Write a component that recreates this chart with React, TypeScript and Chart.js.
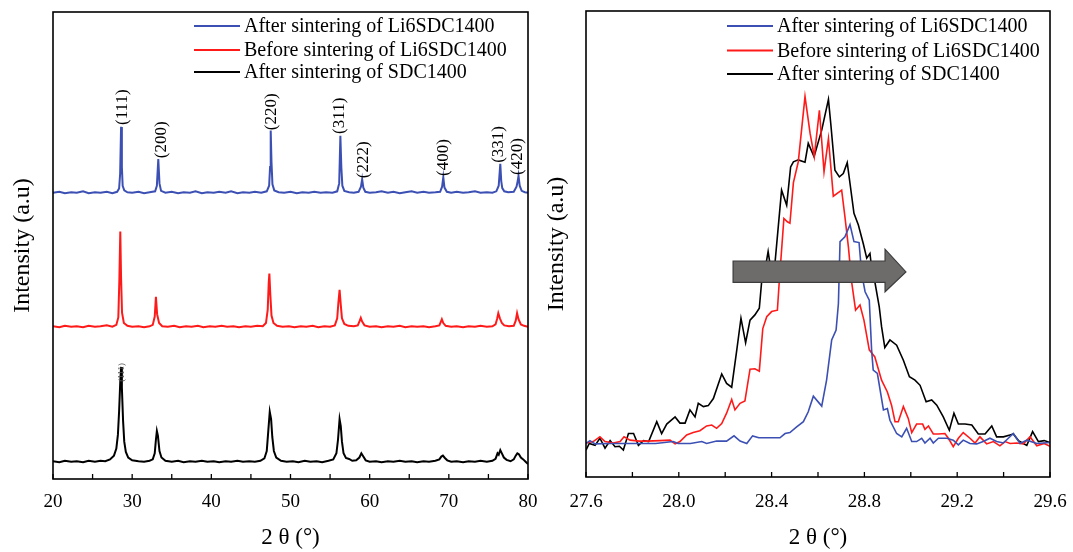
import React, { useEffect, useRef } from 'react';
import { Chart, registerables } from 'chart.js';

Chart.register(...registerables);

// ---------------- data ----------------
const seriesLabels = [
  'After sintering of Li6SDC1400',
  'Before sintering of Li6SDC1400',
  'After sintering of SDC1400',
];
const seriesColors = ['#3c50b4', '#ff1a1a', '#000000'];

// Left panel: full XRD patterns (2θ, offset intensity)
const leftBlue: [number, number][] = [
  [20.0, 61.3], [20.8, 61.5], [21.5, 61.2], [22.3, 61.4], [23.0, 61.3], [23.8, 61.6], [24.5, 61.2], [25.3, 61.4],
  [26.0, 61.3], [26.8, 61.5], [27.5, 61.2], [28.1, 61.5], [28.35, 62.2], [28.48, 65.3], [28.6, 75.4], [28.7, 66.8],
  [28.8, 62.8], [29.0, 61.8], [29.4, 61.4], [30.0, 61.3], [30.8, 61.5], [31.5, 61.2], [32.2, 61.4], [32.9, 61.6],
  [33.12, 62.8], [33.3, 68.5], [33.45, 63.3], [33.65, 61.7], [34.2, 61.3], [35.0, 61.5], [35.8, 61.2], [36.5, 61.4],
  [37.3, 61.3], [38.0, 61.6], [38.8, 61.2], [39.5, 61.4], [40.3, 61.3], [41.0, 61.5], [41.8, 61.3], [42.5, 61.6],
  [43.3, 61.2], [44.0, 61.4], [44.8, 61.3], [45.5, 61.5], [46.3, 61.3], [47.0, 61.6], [47.3, 62.8], [47.42, 66.8],
  [47.5, 74.6], [47.6, 67.8], [47.72, 63.1], [47.95, 61.8], [48.5, 61.4], [49.2, 61.3], [50.0, 61.5], [50.8, 61.2],
  [51.5, 61.4], [52.3, 61.3], [53.0, 61.5], [53.8, 61.3], [54.5, 61.4], [55.3, 61.3], [55.9, 61.6], [56.15, 63.3],
  [56.3, 73.5], [56.42, 66.8], [56.55, 62.8], [56.8, 61.7], [57.4, 61.4], [58.0, 61.3], [58.6, 61.5], [58.9, 62.6],
  [59.05, 64.2], [59.2, 62.4], [59.45, 61.5], [60.0, 61.3], [60.8, 61.4], [61.5, 61.6], [62.3, 61.3], [63.0, 61.5],
  [63.8, 61.2], [64.5, 61.4], [65.3, 61.6], [66.0, 61.3], [66.8, 61.5], [67.5, 61.3], [68.3, 61.4], [68.9, 61.5],
  [69.15, 62.6], [69.3, 64.6], [69.45, 62.4], [69.75, 61.5], [70.3, 61.3], [71.0, 61.5], [71.8, 61.3], [72.5, 61.4],
  [73.3, 61.6], [74.0, 61.3], [74.8, 61.4], [75.5, 61.3], [76.0, 61.6], [76.3, 62.8], [76.5, 67.5], [76.62, 63.8],
  [76.75, 62.3], [77.0, 61.6], [77.5, 61.4], [78.2, 61.5], [78.55, 62.6], [78.7, 63.8], [78.8, 64.9], [78.95, 62.8],
  [79.2, 61.7], [79.6, 61.4], [80.0, 61.3],
];

const leftRed: [number, number][] = [
  [20.0, 32.7], [20.8, 32.5], [21.5, 32.8], [22.3, 32.6], [23.0, 32.7], [23.8, 32.5], [24.5, 32.8], [25.3, 32.6],
  [26.0, 32.7], [26.8, 32.9], [27.5, 32.6], [28.0, 33.0], [28.25, 34.6], [28.38, 42.5], [28.5, 53.0], [28.6, 43.0],
  [28.72, 35.6], [28.95, 33.4], [29.4, 32.8], [30.0, 32.6], [30.8, 32.7], [31.5, 32.5], [32.2, 32.7], [32.6, 33.0],
  [32.85, 34.8], [33.0, 39.0], [33.15, 35.3], [33.4, 33.4], [33.8, 32.7], [34.5, 32.6], [35.3, 32.8], [36.0, 32.5],
  [36.8, 32.7], [37.5, 32.6], [38.3, 32.8], [39.0, 32.5], [39.8, 32.7], [40.5, 32.6], [41.3, 32.8], [42.0, 32.6],
  [42.8, 32.7], [43.5, 32.5], [44.3, 32.7], [45.0, 32.6], [45.8, 32.8], [46.5, 32.7], [46.9, 33.4], [47.12, 36.2],
  [47.25, 42.0], [47.33, 44.0], [47.45, 39.5], [47.6, 35.0], [47.85, 33.4], [48.3, 32.8], [49.0, 32.6], [49.8, 32.7],
  [50.5, 32.5], [51.3, 32.7], [52.0, 32.6], [52.8, 32.8], [53.5, 32.5], [54.3, 32.7], [55.0, 32.6], [55.6, 32.9],
  [55.9, 34.4], [56.05, 37.8], [56.2, 40.5], [56.35, 37.3], [56.5, 34.4], [56.8, 33.2], [57.3, 32.8], [58.0, 32.7],
  [58.5, 32.9], [58.75, 33.9], [58.88, 34.5], [59.05, 33.7], [59.35, 32.9], [60.0, 32.6], [60.8, 32.7], [61.5, 32.5],
  [62.3, 32.7], [63.0, 32.6], [63.8, 32.8], [64.5, 32.5], [65.3, 32.7], [66.0, 32.6], [66.8, 32.7], [67.5, 32.5],
  [68.3, 32.7], [68.8, 32.9], [69.0, 33.7], [69.12, 34.2], [69.3, 33.4], [69.6, 32.8], [70.3, 32.6], [71.0, 32.7],
  [71.8, 32.5], [72.5, 32.7], [73.3, 32.6], [74.0, 32.8], [74.8, 32.6], [75.5, 32.7], [75.9, 33.1], [76.1, 34.3],
  [76.25, 35.5], [76.45, 34.4], [76.7, 33.4], [77.0, 32.9], [77.6, 32.7], [78.2, 32.8], [78.45, 33.9], [78.62, 35.5],
  [78.8, 34.2], [79.1, 33.1], [79.5, 32.8], [80.0, 32.6],
];

const leftBlack: [number, number][] = [
  [20.0, 3.8], [20.8, 3.6], [21.5, 3.9], [22.3, 3.7], [23.0, 3.8], [23.8, 3.6], [24.5, 3.9], [25.3, 3.7],
  [26.0, 3.9], [26.6, 3.8], [27.2, 4.2], [27.7, 5.0], [28.0, 6.5], [28.2, 9.5], [28.35, 14.5], [28.5, 21.0],
  [28.6, 24.0], [28.7, 19.6], [28.85, 12.5], [29.0, 8.0], [29.2, 5.8], [29.5, 4.6], [30.0, 4.0], [30.8, 3.8],
  [31.5, 3.7], [32.2, 3.9], [32.6, 4.2], [32.85, 5.5], [33.0, 8.4], [33.12, 10.3], [33.25, 9.3], [33.45, 6.0],
  [33.7, 4.6], [34.2, 3.9], [35.0, 3.7], [35.8, 3.9], [36.5, 3.6], [37.3, 3.8], [38.0, 3.7], [38.8, 3.9],
  [39.5, 3.7], [40.3, 3.8], [41.0, 3.6], [41.8, 3.8], [42.5, 3.7], [43.3, 3.9], [44.0, 3.7], [44.8, 3.8],
  [45.5, 3.7], [46.2, 3.9], [46.7, 4.4], [47.0, 6.0], [47.2, 10.4], [47.38, 14.4], [47.55, 12.8], [47.7, 9.0],
  [47.9, 6.0], [48.2, 4.6], [48.8, 3.9], [49.5, 3.7], [50.3, 3.8], [51.0, 3.6], [51.8, 3.9], [52.5, 3.7],
  [53.3, 3.8], [54.0, 3.6], [54.8, 3.9], [55.4, 4.2], [55.8, 5.5], [56.0, 8.4], [56.2, 12.8], [56.35, 11.3],
  [56.5, 8.0], [56.7, 5.5], [57.0, 4.5], [57.4, 4.3], [57.8, 3.9], [58.3, 4.0], [58.7, 4.6], [58.95, 5.5],
  [59.2, 4.8], [59.5, 4.0], [60.0, 3.7], [60.8, 3.8], [61.5, 3.6], [62.3, 3.8], [63.0, 3.7], [63.8, 3.9],
  [64.5, 3.7], [65.3, 3.8], [66.0, 3.6], [66.8, 3.8], [67.5, 3.7], [68.3, 3.9], [68.8, 4.2], [69.05, 4.8],
  [69.25, 5.0], [69.5, 4.5], [69.8, 4.0], [70.3, 3.7], [71.0, 3.8], [71.8, 3.6], [72.5, 3.8], [73.3, 3.7],
  [74.0, 3.9], [74.8, 3.7], [75.5, 3.9], [75.9, 4.3], [76.15, 5.5], [76.3, 5.2], [76.5, 6.2], [76.7, 5.5],
  [76.95, 4.6], [77.3, 4.1], [77.8, 3.8], [78.2, 4.2], [78.45, 5.0], [78.65, 5.5], [78.85, 5.3], [79.1, 4.6],
  [79.4, 4.2], [79.7, 3.7], [80.0, 3.2],
];

// Miller-index labels above the blue pattern
const peakLabels = ['(111)', '(200)', '(220)', '(311)', '(222)', '(400)', '(331)', '(420)'];
const peakLabelX = [28.84, 33.66, 47.66, 56.14, 59.18, 69.39, 76.22, 78.74];
const peakLabelY = [75.8, 68.7, 74.7, 73.9, 64.4, 64.9, 67.7, 65.1];
const smallLabel = '(111)';
const smallLabelX = 28.66;
const smallLabelY = 20.8;

// Right panel: (111) peak zoom
const rightBlue: [number, number][] = [
  [27.6, 8.6], [27.617, 9.2], [27.639, 8.5], [27.7, 8.6], [27.8, 8.6], [27.9, 8.6], [27.976, 9.0], [27.997, 8.6],
  [28.05, 8.6], [28.099, 9.0], [28.12, 8.6], [28.163, 9.1], [28.206, 9.1], [28.238, 10.2], [28.264, 9.1], [28.293, 8.6],
  [28.318, 10.2], [28.345, 9.8], [28.4, 9.8], [28.436, 9.8], [28.458, 10.7], [28.479, 10.9], [28.508, 12.1], [28.537, 13.2],
  [28.558, 15.3], [28.58, 18.6], [28.616, 16.5], [28.637, 22.0], [28.659, 30.5], [28.678, 32.6], [28.688, 38.2], [28.695, 51.3],
  [28.716, 52.3], [28.738, 54.9], [28.755, 51.3], [28.777, 51.1], [28.784, 47.0], [28.795, 42.8], [28.803, 40.7], [28.821, 38.9],
  [28.831, 28.4], [28.838, 24.1], [28.856, 23.4], [28.882, 15.7], [28.899, 16.0], [28.91, 13.5], [28.939, 10.7], [28.961, 10.0],
  [28.982, 11.8], [29.004, 9.0], [29.025, 9.0], [29.047, 9.7], [29.061, 8.7], [29.083, 9.7], [29.097, 8.7], [29.119, 9.7],
  [29.155, 9.7], [29.183, 9.3], [29.205, 8.3], [29.226, 9.3], [29.255, 8.6], [29.284, 8.5], [29.312, 9.0], [29.341, 9.7],
  [29.37, 9.0], [29.399, 8.7], [29.442, 10.7], [29.471, 8.6], [29.5, 9.3], [29.543, 8.6], [29.6, 8.8],
];

const rightRed: [number, number][] = [
  [27.6, 8.7], [27.631, 9.0], [27.66, 10.0], [27.682, 9.0], [27.718, 8.7], [27.747, 9.0], [27.764, 10.0], [27.79, 9.3],
  [27.83, 9.1], [27.862, 9.1], [27.919, 9.2], [27.962, 9.3], [27.984, 8.5], [28.005, 9.0], [28.034, 10.4], [28.062, 10.9],
  [28.091, 11.3], [28.12, 12.3], [28.142, 12.5], [28.163, 11.8], [28.185, 12.8], [28.206, 15.0], [28.228, 17.9], [28.242, 15.7],
  [28.264, 17.1], [28.285, 17.6], [28.307, 24.3], [28.328, 24.4], [28.347, 23.9], [28.362, 32.9], [28.379, 35.4], [28.4, 36.5],
  [28.425, 36.8], [28.433, 42.8], [28.453, 56.2], [28.468, 55.5], [28.479, 55.2], [28.494, 63.8], [28.515, 68.2], [28.544, 82.0],
  [28.566, 74.2], [28.584, 69.3], [28.606, 79.1], [28.626, 66.1], [28.645, 73.1], [28.666, 60.9], [28.702, 62.2], [28.716, 56.6],
  [28.731, 50.2], [28.745, 42.8], [28.762, 36.8], [28.781, 37.9], [28.798, 34.7], [28.821, 28.4], [28.845, 26.9], [28.874, 22.0],
  [28.899, 19.5], [28.917, 16.7], [28.932, 13.2], [28.946, 13.2], [28.968, 16.4], [28.989, 13.9], [29.004, 10.9], [29.025, 12.7],
  [29.051, 12.7], [29.061, 11.6], [29.076, 12.3], [29.097, 10.6], [29.119, 10.6], [29.147, 10.7], [29.162, 9.7], [29.183, 7.9],
  [29.205, 9.7], [29.226, 10.9], [29.255, 9.7], [29.277, 8.7], [29.298, 10.0], [29.327, 8.5], [29.356, 9.0], [29.384, 8.1],
  [29.406, 9.0], [29.428, 8.6], [29.457, 8.7], [29.485, 8.5], [29.514, 10.0], [29.543, 8.1], [29.575, 8.6], [29.6, 8.0],
];

const rightBlack: [number, number][] = [
  [27.6, 7.2], [27.614, 8.6], [27.639, 8.2], [27.66, 9.7], [27.682, 7.6], [27.704, 9.2], [27.725, 7.9], [27.744, 8.0],
  [27.761, 7.2], [27.783, 10.7], [27.805, 10.7], [27.826, 8.2], [27.848, 9.2], [27.87, 9.0], [27.905, 13.2], [27.926, 10.7],
  [27.948, 12.7], [27.984, 14.2], [28.005, 12.9], [28.027, 12.9], [28.048, 15.7], [28.07, 14.2], [28.084, 17.1], [28.106, 16.4],
  [28.127, 16.6], [28.149, 18.1], [28.185, 23.3], [28.206, 21.3], [28.228, 20.5], [28.25, 28.4], [28.268, 35.1], [28.288, 29.9],
  [28.307, 34.7], [28.328, 35.8], [28.347, 37.2], [28.357, 42.8], [28.372, 45.5], [28.385, 49.2], [28.398, 45.0], [28.415, 47.0],
  [28.443, 62.2], [28.465, 59.0], [28.482, 67.1], [28.494, 68.2], [28.515, 68.6], [28.544, 68.1], [28.558, 72.1], [28.583, 69.3],
  [28.616, 74.9], [28.645, 81.4], [28.655, 76.3], [28.673, 66.4], [28.692, 65.0], [28.709, 65.7], [28.726, 68.0], [28.738, 63.6],
  [28.755, 57.3], [28.774, 54.8], [28.795, 50.9], [28.81, 47.8], [28.824, 48.8], [28.835, 44.0], [28.845, 42.8], [28.864, 37.5],
  [28.874, 33.3], [28.888, 28.9], [28.91, 30.5], [28.939, 29.4], [28.968, 26.2], [28.994, 22.7], [29.018, 22.0], [29.04, 20.9],
  [29.066, 17.4], [29.09, 17.8], [29.112, 16.7], [29.14, 14.2], [29.166, 11.4], [29.186, 15.0], [29.205, 12.7], [29.234, 12.7],
  [29.263, 12.5], [29.291, 10.6], [29.32, 10.6], [29.349, 12.3], [29.37, 10.0], [29.399, 10.0], [29.428, 10.4], [29.442, 10.6],
  [29.464, 9.2], [29.485, 8.6], [29.5, 8.2], [29.525, 11.1], [29.55, 9.0], [29.575, 9.2], [29.6, 8.8],
];

// Shift arrow (data coordinates: tail, head base, tip / head bottom, shaft bottom, centre, shaft top, head top)
const arrowX = [28.234, 28.889, 28.979];
const arrowY = [40.7, 42.7, 44.9, 47.2, 49.7];

// ---------------- helpers ----------------
const SERIF = '"Liberation Serif", "Times New Roman", Times, serif';

type Pt = [number, number];

function decorPlugin(drawExtra: (chart: any) => void, legendRows: number[]) {
  return {
    id: 'decor',
    afterDatasetsDraw(chart: any) {
      const { ctx, chartArea: a, scales } = chart;
      const xs = scales.x;
      ctx.save();
      // inward tick marks on the bottom axis
      ctx.strokeStyle = '#000';
      ctx.lineWidth = 1.3;
      xs.ticks.forEach((t: any) => {
        const px = xs.getPixelForValue(t.value);
        ctx.beginPath();
        ctx.moveTo(px, a.bottom);
        ctx.lineTo(px, a.bottom - 5);
        ctx.stroke();
      });
      drawExtra(chart);
      // frame
      ctx.strokeStyle = '#000';
      ctx.lineWidth = 1.6;
      ctx.strokeRect(a.left, a.top, a.right - a.left, a.bottom - a.top);
      // legend
      ctx.font = `20px ${SERIF}`;
      ctx.textAlign = 'left';
      ctx.textBaseline = 'middle';
      chart.data.datasets.forEach((ds: any, i: number) => {
        const y = a.top + legendRows[i];
        const x0 = a.left + 141;
        ctx.strokeStyle = ds.borderColor;
        ctx.lineWidth = 1.8;
        ctx.beginPath();
        ctx.moveTo(x0, y);
        ctx.lineTo(x0 + 46, y);
        ctx.stroke();
        ctx.fillStyle = '#000';
        ctx.fillText(ds.label, x0 + 50, y + 1);
      });
      ctx.restore();
    },
  };
}

function makeConfig(p: {
  series: Pt[][];
  xMin: number;
  xMax: number;
  yMin: number;
  yMax: number;
  step: number;
  fmt: (v: number) => string;
  lineWidth: number;
  padLeft: number;
  padRight: number;
  padTop: number;
  yWidth: number;
  xHeight: number;
  labelLineHeight: number;
  legendRows: number[];
  extra: (chart: any) => void;
}): any {
  return {
    type: 'line',
    data: {
      datasets: p.series.map((s, i) => ({
        label: seriesLabels[i],
        data: s.map(([x, y]) => ({ x, y })),
        borderColor: seriesColors[i],
        borderWidth: p.lineWidth,
        pointRadius: 0,
        tension: 0,
        fill: false,
      })),
    },
    options: {
      responsive: false,
      animation: false,
      devicePixelRatio: 1,
      layout: { padding: { left: p.padLeft, right: p.padRight, top: p.padTop, bottom: 0 } },
      plugins: { legend: { display: false }, tooltip: { enabled: false } },
      scales: {
        x: {
          type: 'linear',
          min: p.xMin,
          max: p.xMax,
          grid: { display: false, drawTicks: false },
          border: { display: false },
          ticks: {
            stepSize: p.step,
            autoSkip: false,
            maxRotation: 0,
            padding: 0,
            color: '#000',
            font: { family: SERIF, size: 19, lineHeight: `${p.labelLineHeight}px` },
            callback: (v: any, i: number) => (i % 2 === 0 ? p.fmt(Number(v)) : ''),
          },
          title: {
            display: true,
            text: '2 θ (°)',
            color: '#000',
            font: { family: SERIF, size: 23 },
            padding: { top: 0, bottom: 0 },
          },
          afterFit: (s: any) => {
            s.height = p.xHeight;
          },
        },
        y: {
          min: p.yMin,
          max: p.yMax,
          grid: { display: false, drawTicks: false },
          border: { display: false },
          ticks: { display: false },
          title: {
            display: true,
            text: 'Intensity (a.u)',
            color: '#000',
            font: { family: SERIF, size: 24 },
            padding: { top: 4, bottom: 4 },
          },
          afterFit: (s: any) => {
            s.width = p.yWidth;
          },
        },
      },
    },
    plugins: [decorPlugin(p.extra, p.legendRows)],
  };
}

function drawPeakLabels(chart: any) {
  const { ctx, scales } = chart;
  ctx.fillStyle = '#000';
  ctx.textAlign = 'left';
  ctx.textBaseline = 'middle';
  ctx.font = `17px ${SERIF}`;
  peakLabels.forEach((t, i) => {
    ctx.save();
    ctx.translate(scales.x.getPixelForValue(peakLabelX[i]), scales.y.getPixelForValue(peakLabelY[i]));
    ctx.rotate(-Math.PI / 2);
    ctx.fillText(t, 0, 0);
    ctx.restore();
  });
  ctx.save();
  ctx.fillStyle = '#555';
  ctx.font = `9px ${SERIF}`;
  ctx.translate(scales.x.getPixelForValue(smallLabelX), scales.y.getPixelForValue(smallLabelY));
  ctx.rotate(-Math.PI / 2);
  ctx.fillText(smallLabel, 0, 0);
  ctx.restore();
}

function drawArrow(chart: any) {
  const { ctx, scales } = chart;
  const [xa, xb, xc] = arrowX.map((v) => scales.x.getPixelForValue(v));
  const [yHb, ySb, yC, ySt, yHt] = arrowY.map((v) => scales.y.getPixelForValue(v));
  ctx.beginPath();
  ctx.moveTo(xa, ySt);
  ctx.lineTo(xb, ySt);
  ctx.lineTo(xb, yHt);
  ctx.lineTo(xc, yC);
  ctx.lineTo(xb, yHb);
  ctx.lineTo(xb, ySb);
  ctx.lineTo(xa, ySb);
  ctx.closePath();
  ctx.fillStyle = '#6e6b6b';
  ctx.fill();
  ctx.strokeStyle = '#3c3c3c';
  ctx.lineWidth = 1.2;
  ctx.stroke();
}

export default function App() {
  const leftRef = useRef<HTMLCanvasElement>(null);
  const rightRef = useRef<HTMLCanvasElement>(null);

  useEffect(() => {
    const left = new Chart(
      leftRef.current as HTMLCanvasElement,
      makeConfig({
        series: [leftBlue, leftRed, leftBlack],
        xMin: 20,
        xMax: 80,
        yMin: 0,
        yMax: 100,
        step: 5,
        fmt: (v) => String(Math.round(v)),
        lineWidth: 2,
        padLeft: 4,
        padRight: 17,
        padTop: 12,
        yWidth: 49,
        xHeight: 73,
        labelLineHeight: 46,
        legendRows: [14, 38, 60],
        extra: drawPeakLabels,
      })
    );
    const right = new Chart(
      rightRef.current as HTMLCanvasElement,
      makeConfig({
        series: [rightBlue, rightRed, rightBlack],
        xMin: 27.6,
        xMax: 29.6,
        yMin: 1.5,
        yMax: 100.1,
        step: 0.2,
        fmt: (v) => v.toFixed(1),
        lineWidth: 1.6,
        padLeft: 1,
        padRight: 23,
        padTop: 11,
        yWidth: 48,
        xHeight: 75,
        labelLineHeight: 50,
        legendRows: [15, 39.5, 63],
        extra: drawArrow,
      })
    );
    return () => {
      left.destroy();
      right.destroy();
    };
  }, []);

  return (
    <div style={{ position: 'fixed', left: 0, top: 0, width: 1073, height: 552, background: '#fff' }}>
      <canvas
        ref={leftRef}
        width={545}
        height={552}
        style={{ position: 'absolute', left: 0, top: 0, width: 545, height: 552 }}
      />
      <canvas
        ref={rightRef}
        width={536}
        height={552}
        style={{ position: 'absolute', left: 537, top: 0, width: 536, height: 552 }}
      />
    </div>
  );
}
